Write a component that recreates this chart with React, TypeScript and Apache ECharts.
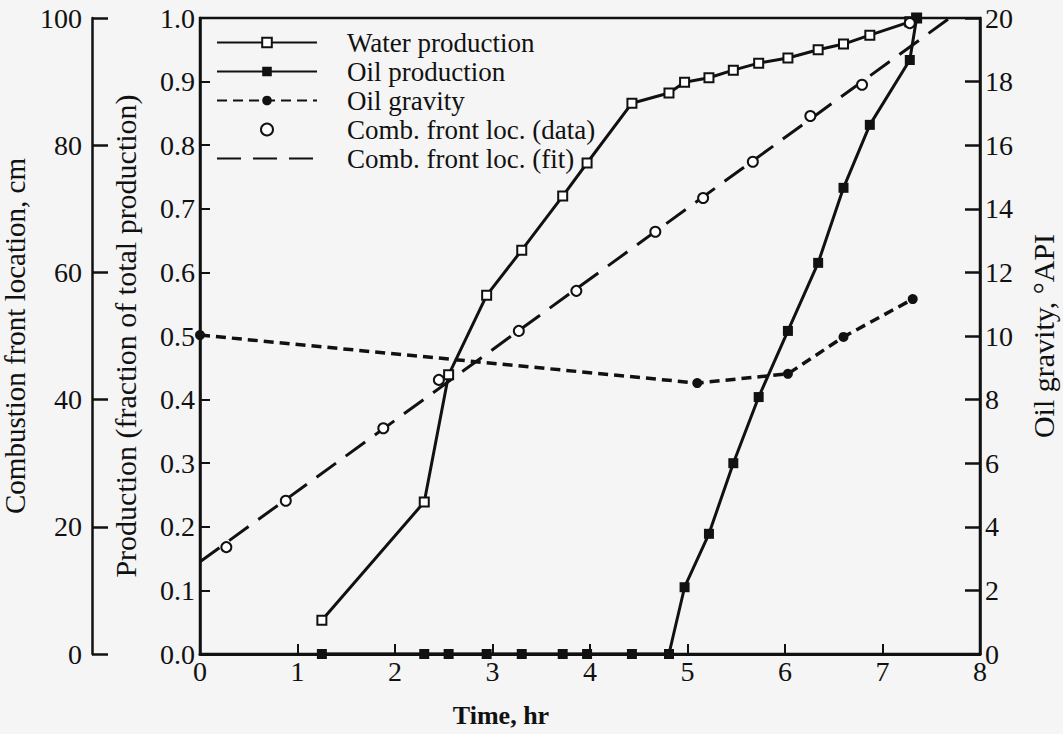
import React, { useEffect, useRef } from "react";
import * as echarts from "echarts";

const FONT = '"Liberation Serif", "Times New Roman", Times, serif';
const INK = "#111";
const PAPER = "#f5f5f5";

// Sample times (hr) shared by the water and oil production curves
const sampleTimes = [1.25, 2.3, 2.55, 2.94, 3.3, 3.72, 3.97, 4.43, 4.81, 4.97, 5.22, 5.47, 5.73, 6.03, 6.34, 6.6, 6.87, 7.28, 7.35];
// Cumulative production, fraction of total
const waterProduction = [0.053, 0.239, 0.439, 0.564, 0.635, 0.72, 0.772, 0.866, 0.882, 0.899, 0.906, 0.918, 0.929, 0.937, 0.95, 0.959, 0.973, 0.994, 1.0];
const oilProduction = [0, 0, 0, 0, 0, 0, 0, 0, 0, 0.105, 0.189, 0.3, 0.404, 0.508, 0.615, 0.733, 0.832, 0.934, 1.0];

// Oil gravity, °API
const gravityTimes = [0, 5.1, 6.03, 6.6, 7.31];
const oilGravity = [10.03, 8.52, 8.81, 9.97, 11.16];

// Combustion front location, cm (measured)
const frontTimes = [0.27, 0.88, 1.88, 2.45, 3.27, 3.86, 4.67, 5.16, 5.67, 6.26, 6.79, 7.28];
const frontLocation = [16.8, 24.1, 35.5, 43.1, 50.8, 57.1, 66.4, 71.7, 77.4, 84.6, 89.5, 99.2];

// Linear fit of the combustion front location
const fitTimes = [0, 7.69];
const fitLocation = [14.5, 100];

// Axis ticks
const timeTicks = { min: 0, max: 8, interval: 1 };
const productionTicks = { min: 0, max: 1, interval: 0.1 };
const frontTicks = { min: 0, max: 100, interval: 20 };
const gravityTicks = { min: 0, max: 20, interval: 2 };

const pairs = (xs: number[], ys: number[]) => xs.map((x, i) => [x, ys[i]]);

export default function App() {
  const ref = useRef<HTMLDivElement>(null);

  useEffect(() => {
    if (!ref.current) return;
    const chart = echarts.init(ref.current, null, { renderer: "svg" });

    const labelStyle = { color: INK, fontFamily: FONT, fontSize: 28 };
    const nameStyle = { color: INK, fontFamily: FONT, fontSize: 30 };
    const axisLine = { show: true, lineStyle: { color: INK, width: 2.5 } };

    chart.setOption({
      animation: false,
      backgroundColor: PAPER,
      color: [INK],
      textStyle: { fontFamily: FONT, color: INK },
      grid: {
        left: 200,
        right: 83,
        top: 18,
        bottom: 80,
        outerBoundsMode: "none",
        containLabel: false,
        show: true,
        borderColor: INK,
        borderWidth: 2.5,
        backgroundColor: "transparent",
      },
      legend: {
        orient: "vertical",
        left: 211,
        top: 24,
        itemWidth: 100,
        itemHeight: 12,
        itemGap: 2,
        textStyle: { color: INK, fontFamily: FONT, fontSize: 27, padding: [0, 0, 0, 25] },
        data: [
          "Water production",
          "Oil production",
          "Oil gravity",
          "Comb. front loc. (data)",
          { name: "Comb. front loc. (fit)", itemStyle: { opacity: 0 } },
        ],
      },
      xAxis: {
        type: "value",
        ...timeTicks,
        name: "Time, hr",
        nameLocation: "middle",
        nameGap: 48,
        nameTextStyle: { ...nameStyle, fontWeight: "bold", fontSize: 26, padding: [0, 178, 0, 0] },
        axisLine: { show: true, lineStyle: { color: INK, width: 3 } },
        axisTick: { show: true, inside: true, length: 10, lineStyle: { color: INK, width: 2 } },
        axisLabel: { ...labelStyle, margin: 3 },
        splitLine: { show: false },
      },
      yAxis: [
        {
          type: "value",
          position: "left",
          ...productionTicks,
          name: "Production (fraction of total production)",
          nameLocation: "middle",
          nameRotate: 90,
          nameGap: 60,
          nameTextStyle: nameStyle,
          axisLine,
          axisTick: { show: true, inside: true, length: 10, lineStyle: { color: INK, width: 2 } },
          axisLabel: { ...labelStyle, margin: 5, formatter: (v: number) => v.toFixed(1) },
          splitLine: { show: false },
        },
        {
          type: "value",
          position: "left",
          offset: 108,
          ...frontTicks,
          name: "Combustion front location, cm",
          nameLocation: "middle",
          nameRotate: 90,
          nameGap: 45,
          nameTextStyle: { ...nameStyle, fontSize: 29 },
          axisLine,
          axisTick: { show: true, inside: true, length: 16, lineStyle: { color: INK, width: 2.5 } },
          axisLabel: { ...labelStyle, margin: 10 },
          splitLine: { show: false },
        },
        {
          type: "value",
          position: "right",
          ...gravityTicks,
          name: "Oil gravity, °API",
          nameLocation: "middle",
          nameRotate: 90,
          nameGap: 48,
          nameTextStyle: nameStyle,
          axisLine,
          axisTick: { show: true, inside: true, length: 15, lineStyle: { color: INK, width: 2.5 } },
          axisLabel: { ...labelStyle, margin: 5 },
          splitLine: { show: false },
        },
      ],
      series: [
        {
          name: "Water production",
          type: "line",
          yAxisIndex: 0,
          data: pairs(sampleTimes, waterProduction),
          symbol: "emptyRect",
          symbolSize: 9,
          lineStyle: { color: INK, width: 3 },
          itemStyle: { color: INK, borderColor: INK, borderWidth: 2 },
          z: 3,
        },
        {
          name: "Oil production",
          type: "line",
          yAxisIndex: 0,
          data: pairs(sampleTimes, oilProduction),
          symbol: "rect",
          symbolSize: 10,
          lineStyle: { color: INK, width: 3 },
          itemStyle: { color: INK },
          z: 3,
        },
        {
          name: "Oil gravity",
          type: "line",
          yAxisIndex: 2,
          data: pairs(gravityTimes, oilGravity),
          symbol: "circle",
          symbolSize: 10,
          lineStyle: { color: INK, width: 3.5, type: [10, 6] },
          itemStyle: { color: INK },
          z: 3,
        },
        {
          name: "Comb. front loc. (data)",
          type: "scatter",
          yAxisIndex: 1,
          data: pairs(frontTimes, frontLocation),
          symbol: "emptyCircle",
          symbolSize: 10,
          itemStyle: { color: INK, borderColor: INK, borderWidth: 2, opacity: 1 },
          z: 4,
        },
        {
          name: "Comb. front loc. (fit)",
          type: "line",
          yAxisIndex: 1,
          data: pairs(fitTimes, fitLocation),
          symbol: "none",
          lineStyle: { color: INK, width: 3, type: [24, 12] },
          z: 2,
        },
      ],
    });

    return () => chart.dispose();
  }, []);

  return (
    <div
      ref={ref}
      style={{ position: "absolute", left: 0, top: 0, width: 1063, height: 734 }}
    />
  );
}
